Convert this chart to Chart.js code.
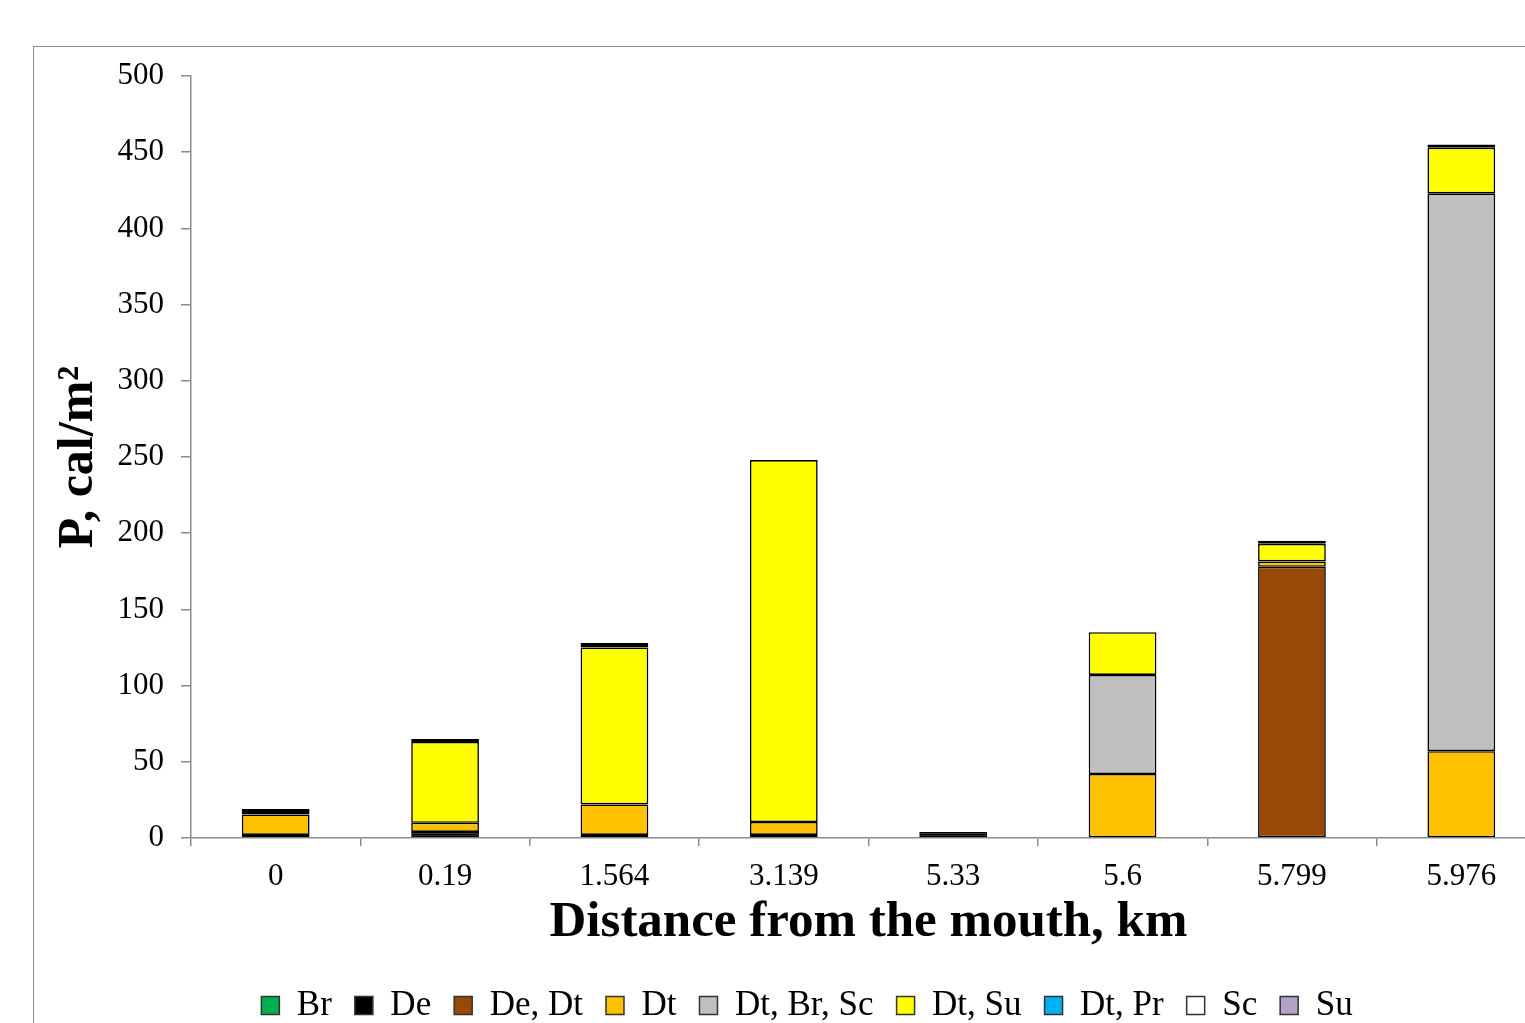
<!DOCTYPE html>
<html>
<head>
<meta charset="utf-8">
<script src="https://cdn.jsdelivr.net/npm/chart.js@4.4.0/dist/chart.umd.min.js"></script>
<style>
  html, body { margin: 0; padding: 0; background: #fff; overflow: hidden; width: 1525px; height: 1023px; }
  #frame { position: absolute; left: 33px; top: 46px; width: 1534px; height: 1000px;
           border-left: 1px solid #8c8c8c; border-top: 1px solid #8c8c8c; background: #fff; }
  canvas { display: block; }
</style>
</head>
<body>
<div id="frame"><canvas id="chart" width="1534" height="1000"></canvas></div>
<script>
// Distance from the mouth, km
const categories = ['0', '0.19', '1.564', '3.139', '5.33', '5.6', '5.799', '5.976'];

// P, cal/m2 by community type
const br     = [2,    null, null, 2,     null, null, null, null];
const de     = [null, 4,    2,    null,  4,    null, null, null];
const deDt   = [null, null, null, null,  null, null, 178,  null];
const dt     = [13.5, 6,    20,   8.5,   null, 42,   3.5,  57];
const dtBrSc = [null, null, null, null,  null, 65,   null, 366];
const dtSu   = [null, 53,   103,  237.5, null, 28,   11.5, 30];
const dtPr   = [null, null, null, null,  null, null, null, null];
const sc     = [3.5,  2,    3,    null,  null, null, 2,    2];
const su     = [null, null, null, null,  null, null, null, null];

const yTicks = [0, 50, 100, 150, 200, 250, 300, 350, 400, 450, 500];

const seriesNames  = ['Br', 'De', 'De, Dt', 'Dt', 'Dt, Br, Sc', 'Dt, Su', 'Dt, Pr', 'Sc', 'Su'];
const seriesValues = [br, de, deDt, dt, dtBrSc, dtSu, dtPr, sc, su];
const seriesColors = ['#00B050', '#000000', '#984807', '#FFC000', '#BFBFBF', '#FFFF00', '#00B0F0', '#FFFFFF', '#B3A2C7'];

const serif = "'Liberation Serif', 'Times New Roman', serif";
const axisGray = '#8c8c8c';

const datasets = seriesNames.map((name, i) => ({
  label: name,
  data: seriesValues[i],
  backgroundColor: seriesColors[i],
  borderColor: '#000000',
  borderWidth: name === 'Sc' ? 3 : 1.6,
  borderSkipped: false,
  barPercentage: 0.4,
  categoryPercentage: 1.0
}));

// Nudge the legend row a little to the right of the plot's centre line
const legendShift = {
  id: 'legendShift',
  afterLayout(chart) {
    const lg = chart.legend;
    if (lg) { lg.left += 17; lg.right += 17; }
  }
};

new Chart(document.getElementById('chart'), {
  type: 'bar',
  data: { labels: categories, datasets },
  plugins: [legendShift],
  options: {
    responsive: false,
    animation: false,
    layout: { padding: { left: 0, top: 29, right: 22, bottom: 14 } },
    plugins: {
      tooltip: { enabled: false },
      legend: {
        position: 'bottom',
        labels: {
          font: { family: serif, size: 35 },
          color: '#000',
          boxWidth: 18,
          boxHeight: 18,
          padding: 23,
          generateLabels(chart) {
            const items = Chart.defaults.plugins.legend.labels.generateLabels(chart);
            items.forEach(it => { it.lineWidth = 1.5; it.strokeStyle = '#333'; });
            return items;
          }
        }
      }
    },
    scales: {
      x: {
        stacked: true,
        offset: true,
        border: { display: true, color: axisGray, width: 1.5 },
        grid: { display: true, drawOnChartArea: false, drawTicks: true, tickLength: 8, color: axisGray, lineWidth: 1.5, offset: true },
        ticks: { font: { family: serif, size: 31 }, color: '#000', padding: 12 },
        title: { display: true, text: 'Distance from the mouth, km', font: { family: serif, size: 51, weight: 'bold' }, color: '#000', padding: { top: 0, bottom: 12 } },
        afterFit(scale) { scale.height = 127; }
      },
      y: {
        stacked: true,
        min: 0,
        max: 500,
        afterBuildTicks(scale) { scale.ticks = yTicks.map(v => ({ value: v })); },
        border: { display: true, color: axisGray, width: 1.5 },
        grid: { display: true, drawOnChartArea: false, drawTicks: true, tickLength: 10, color: axisGray, lineWidth: 1.5 },
        ticks: { font: { family: serif, size: 31 }, color: '#000', padding: 17 },
        title: { display: true, text: 'P, cal/m²', font: { family: serif, size: 50, weight: 'bold' }, color: '#000', padding: { top: 15, bottom: 0 } },
        afterFit(scale) { scale.width = 157; scale.paddingTop = 0; }
      }
    }
  }
});
</script>
</body>
</html>
